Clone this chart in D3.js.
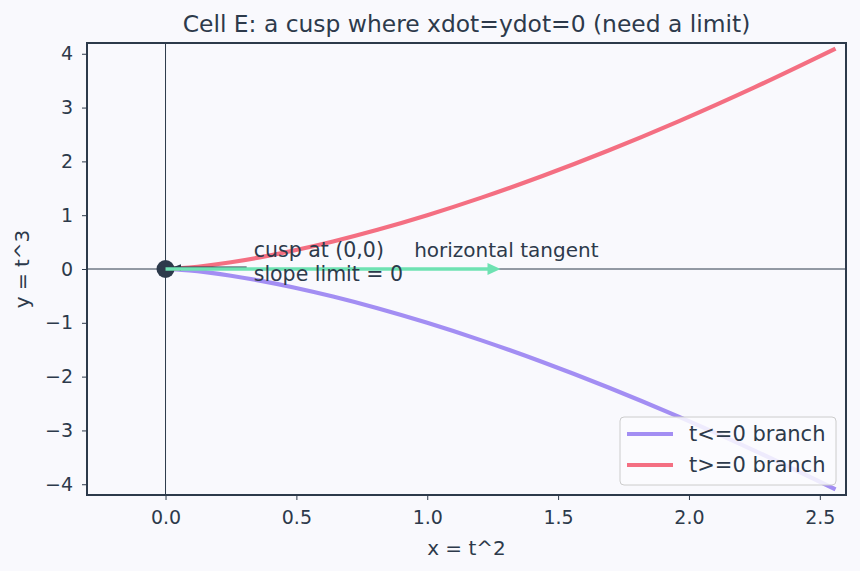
<!DOCTYPE html>
<html>
<head>
<meta charset="utf-8">
<script src="https://cdn.jsdelivr.net/npm/d3@7"></script>
<style>
  body { margin: 0; background: #f9f9fd; }
  svg { font-family: "DejaVu Sans", sans-serif; }
</style>
</head>
<body>
<script>
const xVals = [0, 0.01, 0.04, 0.09, 0.16, 0.25, 0.36, 0.49, 0.64, 0.81, 1.0, 1.21, 1.44, 1.69, 1.96, 2.25, 2.56]
const yUpper = [0, 0.001, 0.008, 0.027, 0.064, 0.125, 0.216, 0.343, 0.512, 0.729, 1.0, 1.331, 1.728, 2.197, 2.744, 3.375, 4.096]
const yLower = [0, -0.001, -0.008, -0.027, -0.064, -0.125, -0.216, -0.343, -0.512, -0.729, -1.0, -1.331, -1.728, -2.197, -2.744, -3.375, -4.096]

const xTicks = [0, 0.5, 1.0, 1.5, 2.0, 2.5]
const yTicks = [-4, -3, -2, -1, 0, 1, 2, 3, 4]
const seriesNames = ["t<=0 branch", "t>=0 branch"]
const seriesColors = ["#a38ef3", "#f46f82"]
const tangentEnd = 1.28

const width = 860
const height = 571
const margin = {left: 87, right: 14, top: 43, bottom: 76}
const ink = "#2d3a4b"

const x = d3.scaleLinear([-0.3, 2.6], [margin.left, width - margin.right])
const y = d3.scaleLinear([-4.2, 4.2], [height - margin.bottom, margin.top])

const svg = d3.select("body").append("svg")
  .attr("width", width)
  .attr("height", height)

svg.append("rect").attr("width", width).attr("height", height).attr("fill", "#f9f9fd")

// reference lines through origin
svg.append("line")
  .attr("x1", x(0)).attr("x2", x(0))
  .attr("y1", y(4.2)).attr("y2", y(-4.2))
  .attr("stroke", ink).attr("stroke-width", 1)
svg.append("line")
  .attr("x1", x(-0.3)).attr("x2", x(2.6))
  .attr("y1", y(0)).attr("y2", y(0))
  .attr("stroke", ink).attr("stroke-width", 1)

const line = d3.line().curve(d3.curveMonotoneX)
const branches = [yLower, yUpper]
branches.forEach((ys, i) => {
  svg.append("path")
    .datum(xVals.map((v, j) => [x(v), y(ys[j])]))
    .attr("d", line)
    .attr("fill", "none")
    .attr("stroke", seriesColors[i])
    .attr("stroke-width", 4.2)
})

// cusp point
svg.append("circle")
  .attr("cx", x(0)).attr("cy", y(0)).attr("r", 9)
  .attr("fill", ink)

// annotation arrow (text -> cusp)
const defs = svg.append("defs")
defs.append("marker")
  .attr("id", "darkHead")
  .attr("viewBox", "0 0 10 10")
  .attr("refX", 10).attr("refY", 5)
  .attr("markerWidth", 4).attr("markerHeight", 4)
  .attr("markerUnits", "strokeWidth")
  .attr("orient", "auto")
  .append("path").attr("d", "M0,1 L10,5 L0,9 Z").attr("fill", ink)

svg.append("line")
  .attr("x1", x(0.31)).attr("y1", y(0) - 1.5)
  .attr("x2", x(0.027)).attr("y2", y(0) - 1.5)
  .attr("stroke", ink).attr("stroke-width", 2.2)
  .attr("marker-end", "url(#darkHead)")

// horizontal tangent arrow
const gx0 = x(0), gx1 = x(tangentEnd), gy = y(0)
svg.append("line")
  .attr("x1", gx0).attr("y1", gy)
  .attr("x2", gx1 - 10).attr("y2", gy)
  .attr("stroke", "#6ee2b2").attr("stroke-width", 3.5)
svg.append("path")
  .attr("d", `M${gx1},${gy} L${gx1 - 13},${gy - 6} L${gx1 - 13},${gy + 6} Z`)
  .attr("fill", "#6ee2b2")

svg.append("text")
  .attr("x", x(0.337)).attr("y", 257)
  .attr("font-size", 20.5).attr("fill", ink)
  .text("cusp at (0,0)")
svg.append("text")
  .attr("x", x(0.337)).attr("y", 281)
  .attr("font-size", 20.5).attr("fill", ink)
  .text("slope limit = 0")

svg.append("text")
  .attr("x", x(0.95)).attr("y", 257)
  .attr("font-size", 20).attr("fill", ink)
  .text("horizontal tangent")

// axes
const xAxis = svg.append("g")
  .attr("transform", `translate(0, ${height - margin.bottom})`)
  .call(d3.axisBottom(x).tickValues(xTicks).tickFormat(d3.format(".1f")).tickSizeOuter(0).tickSize(5).tickPadding(11))
const yAxis = svg.append("g")
  .attr("transform", `translate(${margin.left}, 0)`)
  .call(d3.axisLeft(y).tickValues(yTicks).tickFormat(d => d < 0 ? "\u2212" + Math.abs(d) : d).tickSizeOuter(0).tickSize(5).tickPadding(9))

;[xAxis, yAxis].forEach(g => {
  g.select(".domain").remove()
  g.selectAll(".tick line").attr("stroke", ink).attr("stroke-width", 1)
  g.selectAll(".tick text").attr("fill", ink).attr("font-size", 19).attr("font-family", "DejaVu Sans")
})

// frame
svg.append("rect")
  .attr("x", margin.left).attr("y", margin.top)
  .attr("width", width - margin.left - margin.right)
  .attr("height", height - margin.top - margin.bottom)
  .attr("fill", "none").attr("stroke", ink).attr("stroke-width", 2)

// labels
svg.append("text")
  .attr("x", (margin.left + width - margin.right) / 2).attr("y", 32)
  .attr("text-anchor", "middle").attr("font-size", 23.4).attr("fill", ink)
  .text("Cell E: a cusp where xdot=ydot=0 (need a limit)")
svg.append("text")
  .attr("x", (margin.left + width - margin.right) / 2).attr("y", 555)
  .attr("text-anchor", "middle").attr("font-size", 20).attr("fill", ink)
  .text("x = t^2")
svg.append("text")
  .attr("transform", `translate(29, ${y(0)}) rotate(-90)`)
  .attr("text-anchor", "middle").attr("font-size", 20).attr("fill", ink)
  .text("y = t^3")

// legend
const lg = svg.append("g").attr("transform", "translate(620, 417)")
lg.append("rect")
  .attr("width", 216).attr("height", 68).attr("rx", 4)
  .attr("fill", "#fbfbfe").attr("fill-opacity", 0.85)
  .attr("stroke", "#cccccc").attr("stroke-width", 1)
seriesNames.forEach((name, i) => {
  const ry = 17 + i * 31
  lg.append("line")
    .attr("x1", 7).attr("x2", 53).attr("y1", ry).attr("y2", ry)
    .attr("stroke", seriesColors[i]).attr("stroke-width", 4.2)
  lg.append("text")
    .attr("x", 69).attr("y", ry + 7)
    .attr("font-size", 21).attr("fill", ink)
    .text(name)
})
</script>
</body>
</html>
